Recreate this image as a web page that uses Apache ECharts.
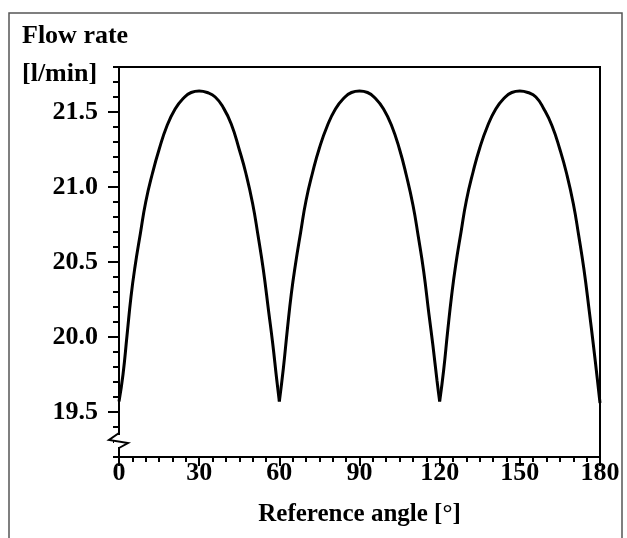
<!DOCTYPE html>
<html>
<head>
<meta charset="utf-8">
<script src="https://cdn.jsdelivr.net/npm/echarts@6/dist/echarts.min.js"></script>
<style>
html,body{margin:0;padding:0;background:#fff;}
#chart{width:627px;height:538px;}
</style>
</head>
<body>
<div id="chart"></div>
<script>
// Reference angle [°]
const angle = [
  0, 1.5, 3, 4.5, 6, 8, 10, 12.5, 15, 18, 21, 24, 27, 30,
  33, 36, 39, 42, 45, 47.5, 50, 52, 54, 56, 57.5, 59, 60,
  61.5, 63, 64.5, 66, 68, 70, 72.5, 75, 78, 81, 84, 87, 90,
  93, 96, 99, 102, 105, 107.5, 110, 112, 114, 116, 117.5, 119, 120,
  121.5, 123, 124.5, 126, 128, 130, 132.5, 135, 138, 141, 144, 147, 150,
  153, 156, 159, 162, 165, 167.5, 170, 172, 174, 176, 177.5, 179, 180
];
// Flow rate [l/min]
const flow = [
  19.57, 19.75, 20.01, 20.27, 20.47, 20.69, 20.90, 21.09, 21.25, 21.41, 21.52, 21.59, 21.63, 21.64,
  21.63, 21.60, 21.53, 21.42, 21.25, 21.09, 20.89, 20.68, 20.45, 20.17, 19.96, 19.72, 19.57,
  19.79, 20.05, 20.29, 20.48, 20.70, 20.91, 21.10, 21.26, 21.41, 21.52, 21.59, 21.63, 21.64,
  21.63, 21.59, 21.52, 21.41, 21.25, 21.08, 20.88, 20.67, 20.44, 20.15, 19.94, 19.71, 19.57,
  19.78, 20.04, 20.28, 20.48, 20.70, 20.91, 21.10, 21.26, 21.41, 21.52, 21.59, 21.63, 21.64,
  21.63, 21.60, 21.52, 21.41, 21.25, 21.09, 20.89, 20.68, 20.45, 20.17, 19.95, 19.72, 19.56
];
const cusps = [60, 120];
const xTicks = [0, 30, 60, 90, 120, 150, 180];
const yTicks = [19.5, 20.0, 20.5, 21.0, 21.5];
const yTickLabels = ['19.5', '20.0', '20.5', '21.0', '21.5'];

// split into arches at cusp angles so each arch is smoothed separately
const arches = [];
let cur = [];
for (let i = 0; i < angle.length; i++) {
  cur.push([angle[i], flow[i]]);
  if (cusps.indexOf(angle[i]) >= 0) {
    arches.push(cur);
    cur = [[angle[i], flow[i]]];
  }
}
arches.push(cur);

const FONT = '"Liberation Serif", "Times New Roman", serif';
const chart = echarts.init(document.getElementById('chart'), null, {renderer: 'canvas'});
const option = {
  animation: false,
  backgroundColor: '#fff',
  title: {
    text: 'Flow rate\n[l/min]',
    left: 17, top: 12,
    textStyle: {fontFamily: FONT, fontSize: 26, fontWeight: 'bold', color: '#000', lineHeight: 38}
  },
  grid: {
    left: 119, right: 27, top: 67, bottom: 81,
    show: true, borderColor: '#000', borderWidth: 2, backgroundColor: 'transparent'
  },
  xAxis: {
    type: 'value', min: 0, max: 180, interval: 30,
    name: 'Reference angle [°]', nameLocation: 'middle', nameGap: 45,
    nameTextStyle: {fontFamily: FONT, fontSize: 25, fontWeight: 'bold', color: '#000'},
    axisLine: {show: true, lineStyle: {color: '#000', width: 2}},
    axisTick: {show: true, length: 9, lineStyle: {color: '#000', width: 2}},
    minorTick: {show: true, splitNumber: 6, length: 5, lineStyle: {color: '#000', width: 2}},
    axisLabel: {
      margin: 3, fontFamily: FONT, fontSize: 26, fontWeight: 'bold', color: '#000',
      customValues: xTicks
    },
    splitLine: {show: false}
  },
  yAxis: [
    {
      type: 'value', min: 19.2, max: 21.8, interval: 0.1,
      axisLine: {show: true, lineStyle: {color: '#000', width: 2}},
      axisTick: {show: true, length: 6, lineStyle: {color: '#000', width: 2}},
      axisLabel: {show: false},
      splitLine: {show: false}
    },
    {
      type: 'value', min: 19.2, max: 21.8, position: 'left',
      axisLine: {show: false},
      axisTick: {show: true, length: 11, lineStyle: {color: '#000', width: 2}, customValues: yTicks},
      axisLabel: {
        show: true, margin: 21, fontFamily: FONT, fontSize: 26, fontWeight: 'bold', color: '#000',
        customValues: yTicks,
        formatter: function (v) {
          const i = yTicks.findIndex(t => Math.abs(t - v) < 1e-6);
          return i >= 0 ? yTickLabels[i] : '';
        }
      },
      splitLine: {show: false}
    }
  ],
  series: arches.map(a => ({
    type: 'line', data: a, xAxisIndex: 0, yAxisIndex: 0,
    smooth: 0.5, showSymbol: false, symbol: 'none',
    lineStyle: {color: '#000', width: 3}
  })),
  graphic: [
    {type: 'rect', shape: {x: 9, y: 13, width: 613, height: 540},
     style: {fill: 'none', stroke: '#555', lineWidth: 1.5}, silent: true, z: 0},
    {type: 'rect', shape: {x: 114, y: 435, width: 10, height: 12},
     style: {fill: '#fff'}, z: 100},
    {type: 'polyline', shape: {points: [[119, 433], [109, 440], [128, 443], [119, 448]]},
     style: {stroke: '#000', lineWidth: 2, fill: 'none'}, z: 101}
  ]
};
chart.setOption(option);
</script>
</body>
</html>
